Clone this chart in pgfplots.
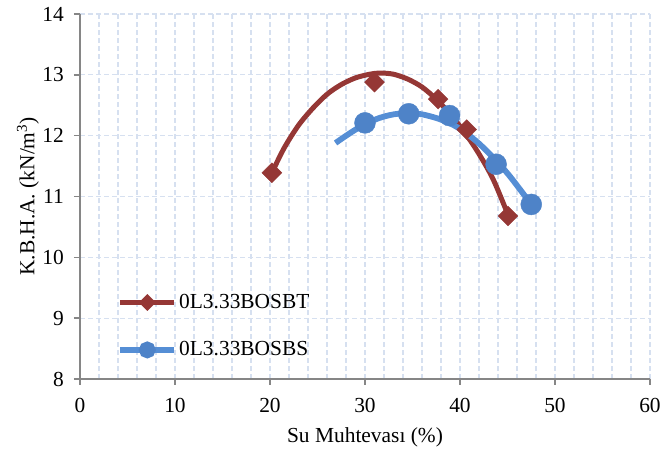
\documentclass[border=0pt]{standalone}
\usepackage{fontspec}
\setmainfont{Liberation Serif}
\usepackage{pgfplots}
\pgfplotsset{compat=1.18}

\definecolor{btred}{RGB}{149,55,53}
\definecolor{bsblue}{RGB}{85,142,213}
\definecolor{bsmark}{RGB}{78,131,200}
\definecolor{gridc}{RGB}{214,224,240}
\definecolor{axgray}{RGB}{134,134,134}

\begin{document}
\fontsize{21.5}{25}\selectfont
\begin{tikzpicture}
\begin{axis}[
    scale only axis,
    width=570bp, height=365bp,
    xmin=0, xmax=60, ymin=8, ymax=14,
    xtick={0,10,...,60}, ytick={8,9,...,14},
    minor x tick num=4,
    axis x line*=bottom, axis y line*=left,
    axis line style={axgray, line width=1.5bp, -},
    tick align=outside,
    major tick length=6bp, minor tick length=0bp,
    every tick/.style={axgray, line width=1.5bp},
    grid=both,
    major grid style={gridc, line width=1.2bp, dash pattern=on 5bp off 3bp},
    minor grid style={gridc, line width=1.2bp, dash pattern=on 5bp off 3bp},
    /pgf/number format/assume math mode=true,
    tick label style={font=\fontsize{21.5}{25}\selectfont, inner sep=1bp},
    xticklabel style={yshift=-12bp},
    yticklabel style={xshift=-9bp},
    label style={font=\fontsize{21.5}{25}\selectfont},
    xlabel={Su Muhtevası (\%)},
    ylabel={K.B.H.A. (kN/m\textsuperscript{3})},
    xlabel style={yshift=-7bp},
    ylabel style={yshift=-5bp},
    legend image code/.code={\draw[mark repeat=2, mark phase=2, #1]
        plot coordinates {(0bp,0bp) (27bp,0bp) (54bp,0bp)};},
    legend style={draw=none, fill=none, at={(0.06,0.245)}, anchor=north west,
        font=\fontsize{21.5}{25}\selectfont, row sep=26bp},
    legend cell align=left,
]
% 0L3.33BOSBT - curve
\addplot[btred, line width=5bp, smooth, forget plot] coordinates {
    (20.2,11.39) (21.5,11.80) (23.0,12.17) (24.5,12.45) (26.0,12.68)
    (27.5,12.84) (29.0,12.95) (30.5,13.01) (31.6,13.03) (33.0,13.01)
    (34.5,12.93) (36.0,12.80) (37.5,12.60) (39.0,12.35) (40.5,12.05)
    (42.0,11.70) (43.5,11.28) (45.05,10.70)
};
% 0L3.33BOSBT - data points
\addplot[only marks, mark=square*, mark size=7bp, btred,
    mark options={fill=btred, draw=btred, rotate=45}, forget plot] coordinates {
    (20.2,11.39) (31.0,12.88) (37.7,12.60) (40.7,12.10) (45.05,10.68)
};
% 0L3.33BOSBS - curve
\addplot[bsblue, line width=5.8bp, smooth, forget plot] coordinates {
    (26.9,11.88) (28.5,12.05) (30.0,12.19) (31.5,12.29) (33.0,12.35)
    (34.6,12.37) (36.0,12.35) (37.5,12.29) (39.0,12.20) (40.5,12.06)
    (42.0,11.87) (43.5,11.64) (45.0,11.38) (46.3,11.12) (47.5,10.87)
};
% 0L3.33BOSBS - data points
\addplot[only marks, mark=*, mark size=10.5bp, bsmark,
    mark options={fill=bsmark, draw=bsmark}, forget plot] coordinates {
    (30.0,12.21) (34.6,12.36) (38.9,12.33) (43.8,11.53) (47.5,10.87)
};
\addlegendimage{btred, line width=5bp, mark=square*, mark size=3.5bp,
    mark options={fill=btred, rotate=45}}
\addlegendentry{0L3.33BOSBT}
\addlegendimage{bsblue, line width=5.8bp, mark=*, mark size=5.5bp,
    mark options={fill=bsmark, draw=bsmark}}
\addlegendentry{0L3.33BOSBS}
\end{axis}
\path (current axis.south west) ++(-80bp,-73bp) rectangle ++(662bp,452bp);
\end{tikzpicture}
\end{document}
